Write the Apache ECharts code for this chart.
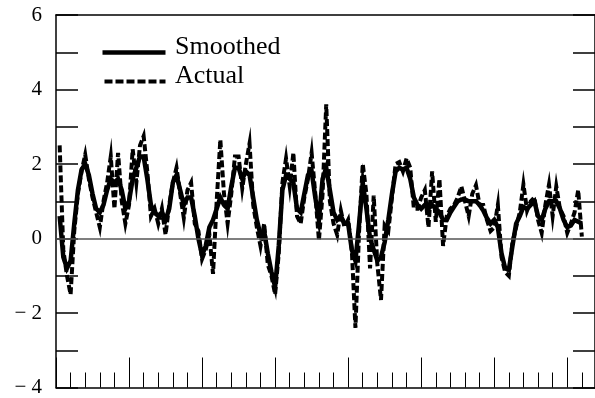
<!DOCTYPE html>
<html><head><meta charset="utf-8">
<script src="https://cdn.jsdelivr.net/npm/echarts@6/dist/echarts.min.js"></script>
<style>html,body{margin:0;padding:0;background:#fff}#c{width:595px;height:398px}</style>
</head><body><div id="c"></div>
<script>
// tick labels for the value axis
const yTickLabels = {'6':'6','4':'4','2':'2','0':'0','-2':'− 2','-4':'− 4'};
const seriesNames = ['Smoothed', 'Actual'];
// quarterly observations starting at 1960.25
const startPeriod = 1960.25;
const periodStep = 0.25;
const smoothed = [
 0.6,-0.5,-0.8,-0.6,0.4,1.3,1.85,2.0,1.7,1.2,
 0.8,0.7,0.9,1.3,1.6,1.5,1.6,1.3,0.8,1.0,
 1.6,1.9,2.2,2.2,1.6,0.9,0.7,0.6,0.7,0.5,
 0.8,1.5,1.7,1.3,0.9,1.1,1.1,0.6,0.0,-0.45,
 -0.2,0.3,0.5,0.8,1.1,0.9,0.8,1.4,1.9,1.9,
 1.6,1.8,1.7,1.1,0.5,0.1,0.2,-0.4,-0.9,-1.3,
 -0.2,1.3,1.7,1.6,1.5,0.8,0.7,1.2,1.7,1.8,
 1.1,0.5,1.6,1.9,1.3,0.7,0.5,0.6,0.4,0.4,
 -0.3,-0.6,0.4,1.5,0.8,0.0,-0.3,-0.6,-0.5,-0.1,
 0.5,1.2,1.8,1.9,1.85,1.9,1.6,1.1,0.9,0.8,
 0.9,0.8,0.9,0.8,0.7,0.5,0.5,0.7,0.85,1.0,
 1.05,1.05,1.0,1.0,1.0,0.9,0.75,0.55,0.4,0.5,
 0.3,-0.4,-0.8,-0.85,-0.2,0.4,0.6,0.85,0.8,0.9,
 1.0,0.6,0.5,0.8,1.0,1.0,1.0,0.8,0.5,0.3,
 0.35,0.5,0.45,0.4
];
const actual = [
 2.5,-0.3,-1.0,-1.5,0.2,1.2,1.8,2.25,1.6,1.1,
 0.7,0.3,1.0,1.5,2.2,0.8,2.3,1.0,0.4,0.9,
 2.4,1.5,2.5,2.75,1.8,0.6,0.8,0.4,0.8,0.1,
 0.9,1.5,1.9,1.2,0.55,1.3,1.5,0.4,0.2,-0.55,
 -0.3,0.1,-0.95,1.0,2.65,1.2,0.4,1.2,2.2,2.2,
 1.35,2.0,2.55,0.9,0.3,-0.2,0.4,-0.7,-1.0,-1.5,
 -0.4,1.5,2.15,1.4,2.3,0.6,0.4,1.1,1.6,2.3,
 1.2,-0.05,1.2,3.6,1.0,0.4,0.1,0.75,0.3,0.5,
 -0.3,-2.4,0.2,2.0,1.2,-0.8,1.15,-0.7,-1.65,0.35,
 0.2,1.1,2.0,2.05,1.8,2.15,1.9,0.8,0.8,1.1,
 1.3,0.3,1.8,0.45,1.6,-0.2,0.6,0.8,0.9,1.1,
 1.4,1.0,0.6,1.2,1.43,0.9,0.9,0.5,0.2,0.3,
 0.9,-0.5,-0.9,-1.0,-0.1,0.3,0.7,1.45,0.75,1.0,
 1.1,0.5,0.15,0.9,1.45,0.6,1.4,0.8,0.6,0.15,
 0.4,0.7,1.3,0.05
];
const periods = smoothed.map((_, i) => startPeriod + i * periodStep);

const FONT = '"Liberation Serif", "Times New Roman", serif';
const DASH = [7, 3];
const chart = echarts.init(document.getElementById('c'), null, {renderer: 'canvas'});
const xBase = {
  type: 'value', min: 1960, max: 1996.9, interval: 5,
  splitLine: {show: false}, axisLabel: {show: false}
};
chart.setOption({
  animation: false,
  backgroundColor: '#fff',
  grid: {left: 56, right: -1, top: 15, bottom: 7},
  graphic: [
    {type: 'line', left: 100, top: 50, shape: {x1: 0, y1: 0, x2: 63, y2: 0},
     style: {stroke: '#000', lineWidth: 4.5}},
    {type: 'line', left: 102, top: 79, shape: {x1: 0, y1: 0, x2: 61, y2: 0},
     style: {stroke: '#000', lineWidth: 4, lineDash: [8, 3]}},
    {type: 'text', left: 175, top: 34,
     style: {text: seriesNames[0], font: '26px ' + FONT, fill: '#000'}},
    {type: 'text', left: 175, top: 63,
     style: {text: seriesNames[1], font: '26px ' + FONT, fill: '#000'}}
  ],
  xAxis: [
    Object.assign({}, xBase, {
      position: 'bottom',
      axisLine: {show: true, onZero: false, lineStyle: {color: '#000', width: 1.5}},
      axisTick: {show: true, inside: true, length: 30, lineStyle: {color: '#000', width: 1}},
      minorTick: {show: true, splitNumber: 5, length: 15, lineStyle: {color: '#000', width: 1}}
    }),
    Object.assign({}, xBase, {
      position: 'top',
      axisLine: {show: true, onZero: false, lineStyle: {color: '#000', width: 1.5}},
      axisTick: {show: false}
    })
  ],
  yAxis: [
    {
      type: 'value', min: -4, max: 6, interval: 1, position: 'left',
      splitLine: {show: false},
      axisLine: {show: true, onZero: false, lineStyle: {color: '#000', width: 1.5}},
      axisTick: {show: true, inside: true, length: 22, lineStyle: {color: '#000', width: 1.5}},
      axisLabel: {
        fontFamily: FONT, fontSize: 21, color: '#000', margin: 14,
        formatter: v => yTickLabels[String(v)] || ''
      }
    },
    {
      type: 'value', min: -4, max: 6, interval: 1, position: 'right',
      splitLine: {show: false},
      axisLine: {show: true, onZero: false, lineStyle: {color: '#000', width: 1.5}},
      axisTick: {show: true, inside: true, length: 22, lineStyle: {color: '#000', width: 1.5}},
      axisLabel: {show: false}
    }
  ],
  series: [
    {
      name: seriesNames[0], type: 'line', symbol: 'none', showSymbol: false,
      data: periods.map((p, i) => [p, smoothed[i]]),
      lineStyle: {color: '#000', width: 4.5, join: 'miter', miterLimit: 10},
      itemStyle: {color: '#000'},
      markLine: {
        silent: true, symbol: 'none', label: {show: false},
        lineStyle: {color: '#555', width: 1.5, type: 'solid'},
        data: [{yAxis: 0}]
      },
      z: 2
    },
    {
      name: seriesNames[1], type: 'line', symbol: 'none', showSymbol: false,
      data: periods.map((p, i) => [p, actual[i]]),
      lineStyle: {color: '#000', width: 4, type: DASH, join: 'miter', miterLimit: 10},
      itemStyle: {color: '#000'},
      z: 3
    }
  ]
});
</script>
</body></html>
